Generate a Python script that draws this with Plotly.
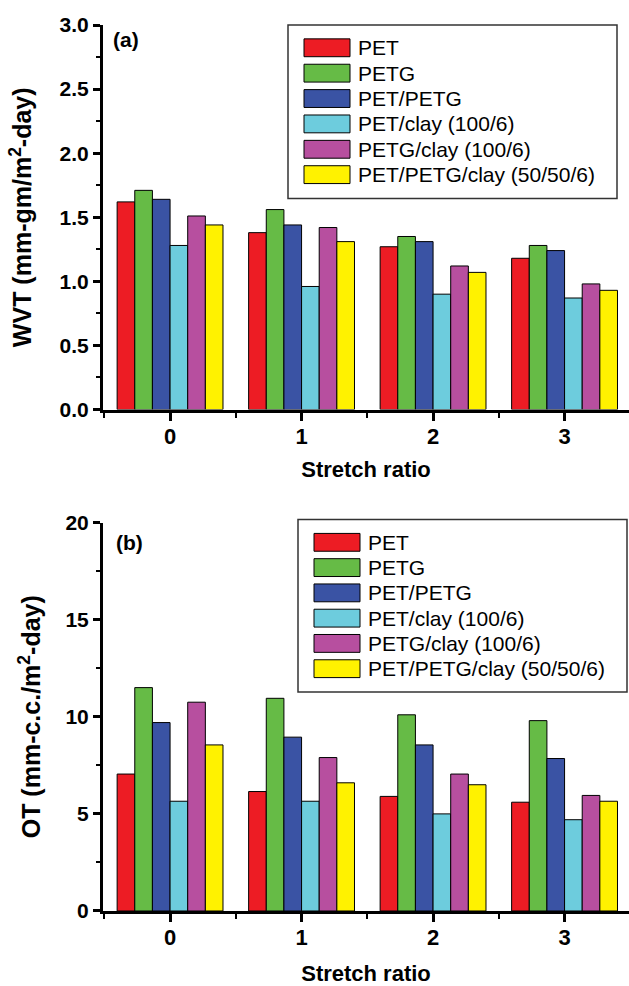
import plotly.graph_objects as go

# ---------------- data ----------------
stretch_ratio = [0, 1, 2, 3]
series_names = ["PET", "PETG", "PET/PETG", "PET/clay (100/6)",
                "PETG/clay (100/6)", "PET/PETG/clay (50/50/6)"]
series_colors = ["#ED1C24", "#66BB46", "#3A53A4", "#6DCCDD", "#B74F9F", "#FFF200"]

# (a) WVT (mm-gm/m2-day)
wvt_pet = [1.62, 1.38, 1.27, 1.18]
wvt_petg = [1.71, 1.56, 1.35, 1.28]
wvt_pet_petg = [1.64, 1.44, 1.31, 1.24]
wvt_pet_clay = [1.28, 0.96, 0.90, 0.87]
wvt_petg_clay = [1.51, 1.42, 1.12, 0.98]
wvt_pet_petg_clay = [1.44, 1.31, 1.07, 0.93]

# (b) OT (mm-c.c./m2-day)
ot_pet = [7.05, 6.15, 5.90, 5.60]
ot_petg = [11.50, 10.95, 10.10, 9.80]
ot_pet_petg = [9.70, 8.95, 8.55, 7.85]
ot_pet_clay = [5.65, 5.65, 5.00, 4.70]
ot_petg_clay = [10.75, 7.90, 7.05, 5.95]
ot_pet_petg_clay = [8.55, 6.60, 6.50, 5.65]

wvt_series = [wvt_pet, wvt_petg, wvt_pet_petg, wvt_pet_clay, wvt_petg_clay, wvt_pet_petg_clay]
ot_series = [ot_pet, ot_petg, ot_pet_petg, ot_pet_clay, ot_petg_clay, ot_pet_petg_clay]

# ---------------- layout geometry ----------------
W, H = 629, 986
L, R, T, B = 103, 0, 25, 67
FONT = "Liberation Sans, Arial, sans-serif"


def px_x(px):
    return (px - L) / (W - L - R)


def px_y(py):
    return (H - B - py) / (H - T - B)


fig = go.Figure()

for name, color, vals in zip(series_names, series_colors, wvt_series):
    fig.add_trace(go.Bar(x=stretch_ratio, y=vals, name=name, xaxis="x", yaxis="y",
                         marker=dict(color=color, line=dict(color="black", width=1)),
                         showlegend=False))
for name, color, vals in zip(series_names, series_colors, ot_series):
    fig.add_trace(go.Bar(x=stretch_ratio, y=vals, name=name, xaxis="x2", yaxis="y2",
                         marker=dict(color=color, line=dict(color="black", width=1)),
                         showlegend=False))

ytickfont = dict(family=FONT, size=21, color="black", weight="bold")
xtickfont = dict(family=FONT, size=22, color="black", weight="bold")
xtitlefont = dict(family=FONT, size=22, color="black", weight="bold")
ytitlefont = dict(family=FONT, size=25, color="black", weight="bold")

common_x = dict(range=[-0.51, 3.49], tickvals=stretch_ratio, ticks="outside", ticklen=8,
                tickwidth=3, tickcolor="black", showline=True, linewidth=3, linecolor="black",
                showgrid=False, zeroline=False, tickfont=xtickfont, ticklabelstandoff=-3,
                minor=dict(dtick=0.5, tick0=0, ticks="outside", ticklen=5, tickwidth=2,
                           tickcolor="black", showgrid=False),
                domain=[0, 1])
common_y = dict(ticks="outside", ticklen=7, tickwidth=3, tickcolor="black", showline=True,
                linewidth=3, linecolor="black", showgrid=False, zeroline=False,
                tickfont=ytickfont)

top_dom = [px_y(413), px_y(25)]
bot_dom = [px_y(919), px_y(527)]

fig.update_layout(
    width=W, height=H,
    margin=dict(l=L, r=R, t=T, b=B),
    paper_bgcolor="white", plot_bgcolor="white",
    barmode="group", bargap=0.195, bargroupgap=0,
    font=dict(family=FONT, color="black"),
    xaxis=dict(common_x, anchor="y",
               title=dict(text="Stretch ratio", font=xtitlefont, standoff=14)),
    yaxis=dict(common_y, anchor="x", domain=top_dom, range=[0, 3], dtick=0.5, tickformat=".1f",
               minor=dict(dtick=0.25, ticks="outside", ticklen=4, tickwidth=2, tickcolor="black",
                          showgrid=False),
               title=dict(text="WVT (mm-gm/m<sup>2</sup>-day)", font=ytitlefont, standoff=21)),
    xaxis2=dict(common_x, anchor="y2",
                title=dict(text="Stretch ratio", font=xtitlefont, standoff=20)),
    yaxis2=dict(common_y, anchor="x2", domain=bot_dom, range=[0, 20], dtick=5,
                minor=dict(dtick=2.5, ticks="outside", ticklen=4, tickwidth=2, tickcolor="black",
                           showgrid=False),
                title=dict(text="OT (mm-c.c./m<sup>2</sup>-day)", font=ytitlefont, standoff=18)),
)

# ---------------- custom legends (box + swatches + labels) ----------------
shapes = []
annotations = []
legend_specs = [
    dict(box=(288, 25, 617, 200), sw=(304, 350), row0=48, step=25.6, tx=356),
    dict(box=(298, 524, 627, 698), sw=(314, 360), row0=547, step=25.5, tx=366),
]
for spec in legend_specs:
    bx0, by0, bx1, by1 = spec["box"]
    shapes.append(dict(type="rect", xref="paper", yref="paper",
                       x0=px_x(bx0), x1=px_x(bx1), y0=px_y(by1), y1=px_y(by0),
                       line=dict(color="#333333", width=1.5), fillcolor="rgba(0,0,0,0)"))
    for i, (name, color) in enumerate(zip(series_names, series_colors)):
        cy = spec["row0"] + i * spec["step"]
        shapes.append(dict(type="rect", xref="paper", yref="paper",
                           x0=px_x(spec["sw"][0]), x1=px_x(spec["sw"][1]),
                           y0=px_y(cy + 9), y1=px_y(cy - 9),
                           line=dict(color="black", width=1), fillcolor=color))
        annotations.append(dict(text=name, xref="paper", yref="paper",
                                x=px_x(spec["tx"]), y=px_y(cy), xanchor="left", yanchor="middle",
                                showarrow=False, font=dict(family=FONT, size=21, color="black")))

annotations.append(dict(text="(a)", xref="paper", yref="paper", x=px_x(111), y=px_y(40),
                        xanchor="left", yanchor="middle", showarrow=False,
                        font=dict(family=FONT, size=21, color="black", weight="bold")))
annotations.append(dict(text="(b)", xref="paper", yref="paper", x=px_x(114), y=px_y(547),
                        xanchor="left", yanchor="middle", showarrow=False,
                        font=dict(family=FONT, size=21, color="black", weight="bold")))

fig.update_layout(shapes=shapes, annotations=annotations)

# remove the default 8px page margin so the figure sits at the window's top-left corner
fig.write_html("out.html", config={"displayModeBar": False},
               post_script="document.body.style.margin='0px';")
